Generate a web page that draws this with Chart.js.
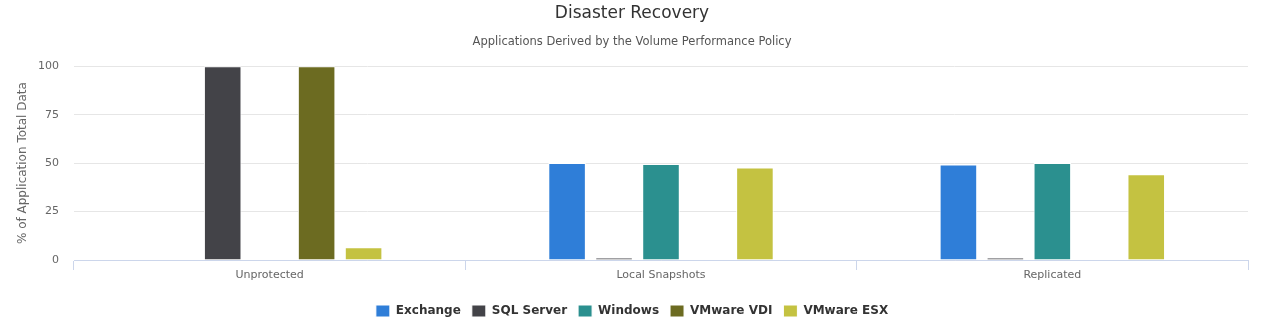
<!DOCTYPE html>
<html>
<head>
<meta charset="utf-8">
<script src="https://cdn.jsdelivr.net/npm/chart.js@4.4.1/dist/chart.umd.min.js"></script>
<style>
  html, body { margin: 0; padding: 0; background: #fff; }
  #wrap { width: 1267px; height: 327px; position: relative; }
</style>
</head>
<body>
<div id="wrap"><canvas id="c" width="1267" height="327"></canvas></div>
<script>
// Protection categories and share of each application's data (%)
const categories = ['Unprotected', 'Local Snapshots', 'Replicated'];
const seriesNames = ['Exchange', 'SQL Server', 'Windows', 'VMware VDI', 'VMware ESX'];
const exchange  = [0, 50, 49.3];
const sqlServer = [100, 1.2, 1.2];
const windows   = [0, 49.5, 50];
const vmwareVdi = [100, 0, 0];
const vmwareEsx = [6.6, 47.7, 44.3];
const yTicks = [0, 25, 50, 75, 100];

const colors = ['#2f7ed8', '#434348', '#2b908f', '#6c6b21', '#c4c241'];
const seriesValues = [exchange, sqlServer, windows, vmwareVdi, vmwareEsx];

const FONT = "'DejaVu Sans', Verdana, sans-serif";

new Chart(document.getElementById('c'), {
  type: 'bar',
  data: {
    labels: categories,
    datasets: seriesNames.map((name, i) => ({
      label: name,
      data: seriesValues[i],
      backgroundColor: colors[i],
      borderColor: '#ffffff',
      borderWidth: 1,
      categoryPercentage: 0.6,
      barPercentage: 0.8
    }))
  },
  options: {
    responsive: false,
    animation: false,
    layout: { padding: { left: 16, right: 19, top: 3, bottom: 0 } },
    plugins: {
      title: {
        display: true,
        text: 'Disaster Recovery',
        color: '#333333',
        font: { family: FONT, size: 17, weight: 'normal' },
        padding: { top: 0, bottom: 12 }
      },
      subtitle: {
        display: true,
        text: 'Applications Derived by the Volume Performance Policy',
        color: '#555555',
        font: { family: FONT, size: 11.5, weight: 'normal' },
        padding: { top: 0, bottom: 17 }
      },
      legend: {
        position: 'bottom',
        labels: {
          boxWidth: 14,
          boxHeight: 12,
          padding: 11,
          color: '#333333',
          font: { family: FONT, size: 12, weight: 'bold' }
        }
      },
      tooltip: { enabled: false }
    },
    scales: {
      x: {
        grid: {
          display: true,
          drawOnChartArea: false,
          drawTicks: true,
          tickLength: 10,
          color: '#ccd6eb',
          offset: true
        },
        border: { display: true, color: '#ccd6eb', width: 1 },
        ticks: {
          color: '#666666',
          font: { family: FONT, size: 11 },
          padding: -1
        },
        afterFit: s => { s.height = 34; }
      },
      y: {
        min: 0,
        max: 100,
        afterBuildTicks: s => { s.ticks = yTicks.map(v => ({ value: v })); },
        grid: { color: '#e6e6e6', drawTicks: false },
        border: { display: false },
        ticks: {
          color: '#666666',
          font: { family: FONT, size: 11 },
          padding: 15
        },
        title: {
          display: true,
          text: '% of Application Total Data',
          color: '#666666',
          font: { family: FONT, size: 12 },
          padding: { top: 0, bottom: 0 }
        },
        afterFit: s => { s.width = 58; }
      }
    }
  }
});
</script>
</body>
</html>
